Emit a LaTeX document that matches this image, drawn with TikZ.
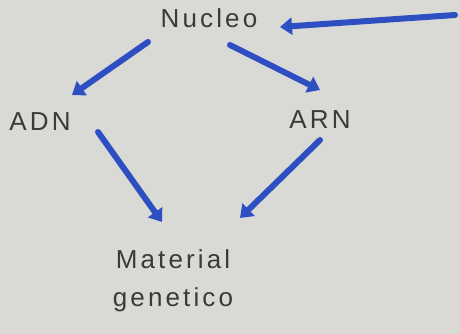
\documentclass[tikz,border=0pt]{standalone}
\usepackage{fontspec}
\setmainfont{Liberation Sans}[LetterSpace=12]
\usetikzlibrary{arrows.meta,calc}
\definecolor{paper}{HTML}{D9D9D6}
\definecolor{ink}{HTML}{2E4FC2}
\definecolor{pencil}{HTML}{3A3A3A}
\begin{document}
\begin{tikzpicture}[x=1pt,y=-1pt,
  lbl/.style={font=\fontsize{26}{38}\selectfont, text=pencil, inner sep=2pt},
  arr/.style={draw=ink, line width=6pt, line cap=round, -{Triangle[width=17pt,length=12pt]}}]
\fill[paper] (0,0) rectangle (460,334);
\useasboundingbox (0,0) rectangle (460,334);
\node[lbl] (nucleo) at (209,18) {Nucleo};
\node[lbl] (adn) at (40,122) {ADN};
\node[lbl] (arn) at (320,120) {ARN};
\node[lbl, align=center] (mat) at (173,281) {Material\\genetico};
\coordinate (r) at (455,15);
\draw[arr] (r) -- ($(nucleo)+(71,9)$);
\draw[arr] ($(nucleo)+(-61,24)$) -- ($(adn)+(32,-27)$);
\draw[arr] ($(nucleo)+(21,27)$) -- ($(arn)+(0,-30)$);
\draw[arr] ($(adn)+(58,10)$) -- ($(mat)+(-11,-59)$);
\draw[arr] ($(arn)+(0,20)$) -- ($(mat)+(67,-63)$);
\end{tikzpicture}
\end{document}
